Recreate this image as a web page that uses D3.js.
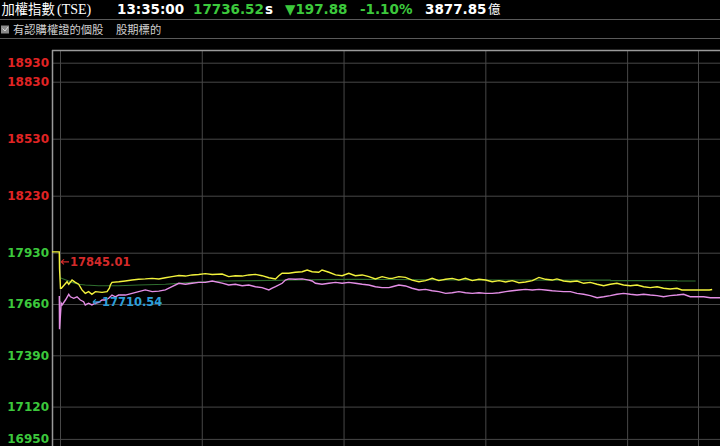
<!DOCTYPE html>
<html>
<head>
<meta charset="utf-8">
<script src="https://cdn.jsdelivr.net/npm/d3@7"></script>
<style>
  body { margin: 0; background: #000; overflow: hidden; }
  svg { display: block; }
</style>
</head>
<body>
<svg id="chart" width="720" height="446"></svg>
<script>
// header quote
const quoteName = "加權指數";
const quoteCode = "(TSE)";
const quoteTime = "13:35:00";
const lastPrice = "17736.52";
const changePts = "197.88";
const changePct = "-1.10%";
const turnover = "3877.85";
const filterTabs = ["有認購權證的個股", "股期標的"];

const prevClose = 17934.40;
const yTicks = [18930, 18830, 18530, 18230, 17930, 17660, 17390, 17120, 16950];
const xTicks = [0, 60, 120, 180, 240, 270]; // minutes after 09:00

// index (yellow): [minutes after 09:00, value]
const indexSeries = [
  [-3.4, 17934.40], [-0.3, 17934.40], [-0.2, 17845.01], [0.2, 17743], [0.6, 17743], [3.0, 17777], [3.7, 17764],
  [5.1, 17786], [6.5, 17774], [7.9, 17764], [9.3, 17734], [10.7, 17716], [12.1, 17725],
  [13.5, 17710.54], [15.0, 17725], [17.8, 17721], [19.9, 17725], [20.9, 17743], [21.3, 17760],
  [22.0, 17774], [24.9, 17777], [27.6, 17781], [30.5, 17786], [33.3, 17790], [36.1, 17792],
  [39.0, 17795], [41.8, 17792], [44.6, 17798], [47.4, 17804], [50.3, 17810], [53.1, 17807],
  [55.9, 17813], [58.7, 17815], [61.5, 17820], [64.4, 17815], [68.6, 17818], [71.4, 17804],
  [74.2, 17809], [77.1, 17807], [79.9, 17813], [82.7, 17816], [85.5, 17809], [88.4, 17798],
  [91.2, 17792], [92.6, 17809], [94.0, 17822], [96.8, 17822], [99.6, 17827], [102.5, 17830],
  [104.6, 17839], [106.7, 17830], [109.5, 17827], [110.9, 17839], [113.8, 17827], [116.6, 17813],
  [119.4, 17809], [122.2, 17822], [125.0, 17809], [127.9, 17813], [130.7, 17804], [133.5, 17792],
  [136.3, 17804], [139.2, 17795], [140.6, 17795], [143.4, 17804], [146.2, 17800], [149.0, 17786],
  [151.9, 17777], [154.7, 17783], [157.5, 17795], [160.3, 17783], [163.2, 17790], [166.0, 17795],
  [168.8, 17786], [171.6, 17795], [174.5, 17783], [177.3, 17790], [180.1, 17786], [182.9, 17777],
  [185.8, 17783], [188.6, 17776], [191.4, 17783], [194.2, 17772], [197.0, 17776], [199.9, 17783],
  [202.7, 17800], [205.5, 17790], [208.3, 17786], [210.3, 17792], [213.1, 17781], [216.0, 17777],
  [218.8, 17781], [221.6, 17769], [224.4, 17774], [227.3, 17764], [230.1, 17756], [232.9, 17764],
  [235.7, 17769], [238.5, 17760], [241.4, 17756], [244.2, 17760], [247.0, 17751], [249.8, 17746],
  [252.7, 17751], [255.4, 17743], [258.2, 17739], [261.1, 17743], [263.2, 17734], [274.8, 17734],
  [276.0, 17736.52]
];

// futures (violet)
const futuresSeries = [
  [-0.3, 17702], [-0.2, 17527], [0.5, 17664], [0.9, 17655], [2.3, 17681], [3.7, 17711], [4.4, 17698],
  [5.8, 17690], [7.2, 17698], [8.6, 17681], [10.0, 17672], [10.7, 17655], [12.1, 17664],
  [13.5, 17655], [15.0, 17664], [16.4, 17669], [17.8, 17681], [19.2, 17681], [20.6, 17690],
  [22.0, 17707], [23.4, 17698], [24.8, 17707], [27.7, 17707], [30.5, 17716], [33.3, 17725],
  [36.1, 17734], [39.0, 17725], [41.8, 17728], [44.6, 17734], [47.4, 17751], [50.3, 17769],
  [53.1, 17764], [55.9, 17769], [58.7, 17774], [61.5, 17774], [64.4, 17781], [68.6, 17770],
  [71.4, 17760], [74.2, 17764], [77.1, 17756], [79.9, 17760], [82.7, 17751], [85.5, 17746],
  [88.4, 17734], [89.8, 17743], [91.2, 17751], [94.0, 17769], [95.4, 17786], [96.8, 17792],
  [99.6, 17790], [102.5, 17792], [105.3, 17786], [106.7, 17781], [108.1, 17769], [110.9, 17764],
  [113.8, 17769], [116.6, 17774], [119.4, 17769], [122.2, 17774], [125.0, 17769], [127.9, 17764],
  [130.7, 17760], [133.5, 17751], [136.3, 17746], [139.2, 17746], [140.6, 17751], [143.4, 17760],
  [146.2, 17755], [149.0, 17743], [151.9, 17734], [154.7, 17737], [157.5, 17730], [160.3, 17725],
  [163.2, 17716], [166.0, 17719], [168.8, 17725], [171.6, 17719], [174.5, 17716], [177.3, 17719],
  [180.1, 17716], [182.9, 17716], [185.8, 17719], [188.6, 17725], [191.4, 17730], [194.2, 17734],
  [197.0, 17737], [199.9, 17734], [202.7, 17737], [205.5, 17734], [208.3, 17730], [210.3, 17728],
  [213.1, 17725], [216.0, 17725], [218.8, 17716], [221.6, 17711], [224.4, 17704], [227.3, 17693],
  [230.1, 17698], [232.9, 17704], [235.7, 17711], [238.5, 17716], [241.4, 17711], [244.2, 17707],
  [247.0, 17711], [249.8, 17707], [252.7, 17704], [255.4, 17698], [258.2, 17704], [261.1, 17707],
  [263.9, 17711], [266.7, 17698], [269.5, 17698], [272.4, 17698], [275.2, 17693], [278.0, 17693],
  [281.0, 17693]
];

// average (dark green)
const averageSeries = [
  [0, 17798], [3.7, 17781], [5.1, 17774], [7.9, 17764], [10.7, 17760], [16.4, 17756], [24.9, 17756],
  [33.3, 17760], [44.6, 17764], [55.9, 17774], [68.6, 17781], [94.0, 17785], [110.9, 17788],
  [125.0, 17790], [140.6, 17789], [165.0, 17787], [207.5, 17786], [232.9, 17786], [233.0, 17783],
  [261.0, 17783], [261.1, 17781], [269.0, 17781]
];

const dayHigh = {t: 0, v: 17845.01};
const dayLow = {t: 13.5, v: 17710.54};

const W = 720, H = 446;
const plotLeft = 52, plotTop = 50;
const colorUp = "#e02424", colorDown = "#3cc83c";
const cjk = "'Noto Sans CJK TC', 'Noto Sans CJK SC', sans-serif";
const boldFont = "'DejaVu Sans', Verdana, sans-serif";

const svg = d3.select("#chart");
svg.append("rect").attr("width", W).attr("height", H).attr("fill", "#000");

// header row
const head = svg.append("g").attr("class", "header");
head.append("text").attr("x", 1.5).attr("y", 14)
    .attr("font-family", cjk).attr("font-size", 13.3).attr("fill", "#fff").text(quoteName);
head.append("text").attr("x", 57).attr("y", 13.5)
    .attr("font-family", "'Liberation Serif', serif").attr("font-size", 14).attr("fill", "#fff").text(quoteCode);

const quoteParts = [
  {x: 117, text: quoteTime, fill: "#fff"},
  {x: 193, text: lastPrice, fill: colorDown},
  {x: 265, text: "s", fill: "#fff"},
  {x: 285, text: "▼" + changePts, fill: colorDown},
  {x: 360, text: changePct, fill: colorDown},
  {x: 425, text: turnover, fill: "#fff"}
];
head.selectAll("text.q")
    .data(quoteParts)
    .enter()
    .append("text")
    .attr("class", "q")
    .attr("x", d => d.x).attr("y", 13.5)
    .attr("font-family", boldFont).attr("font-weight", "bold").attr("font-size", 13.5)
    .attr("fill", d => d.fill)
    .text(d => d.text);
head.append("text").attr("x", 488).attr("y", 14)
    .attr("font-family", cjk).attr("font-size", 12.5).attr("fill", "#fff").text("億");

// separators
svg.selectAll("line.sep")
    .data([19.5, 38.5])
    .enter()
    .append("line")
    .attr("class", "sep")
    .attr("x1", 0).attr("x2", W)
    .attr("y1", d => d).attr("y2", d => d)
    .attr("stroke", "#5a5a5a");

// filter row
svg.append("rect").attr("x", 1).attr("y", 25.5).attr("width", 8).attr("height", 8)
    .attr("fill", "#8a8a8a");
svg.append("path").attr("d", "M2.5,28.5 L5,31 L8,27")
    .attr("fill", "none").attr("stroke", "#d8d8d8").attr("stroke-width", 1);
svg.selectAll("text.tab")
    .data(filterTabs)
    .enter()
    .append("text")
    .attr("class", "tab")
    .attr("x", (d, i) => i === 0 ? 13 : 116).attr("y", 33.5)
    .attr("font-family", cjk).attr("font-size", 11.3).attr("fill", "#d0d0d0")
    .text(d => d);

// scales
const x = d3.scaleLinear().domain([0, 270]).range([60, 698]);
const y = d3.scaleLinear().domain([16950, 18930]).range([438.9, 62.7]);

// vertical grid
const xGrid = svg.append("g")
    .attr("transform", `translate(0,${H})`)
    .call(d3.axisBottom(x).tickValues(xTicks).tickSize(-(H - plotTop)).tickFormat(""));
xGrid.select(".domain").remove();
xGrid.selectAll("line").attr("stroke", "#474747");

// horizontal grid + labels
const yAxis = svg.append("g")
    .attr("transform", `translate(${plotLeft},0)`)
    .call(d3.axisLeft(y).tickValues(yTicks).tickSize(-(W - plotLeft)).tickPadding(3)
        .tickFormat(d3.format("d")));
yAxis.select(".domain").remove();
yAxis.selectAll("line").attr("stroke", "#474747");
yAxis.selectAll("text")
    .attr("font-family", boldFont).attr("font-weight", "bold").attr("font-size", 12)
    .attr("fill", d => d > prevClose ? colorUp : colorDown);

// frame
svg.append("line").attr("x1", plotLeft).attr("x2", W).attr("y1", plotTop + 0.5).attr("y2", plotTop + 0.5)
    .attr("stroke", "#9a9a9a").attr("stroke-width", 1.5);
svg.append("line").attr("x1", plotLeft + 0.5).attr("x2", plotLeft + 0.5).attr("y1", plotTop).attr("y2", H)
    .attr("stroke", "#9a9a9a").attr("stroke-width", 1.5);

// series
const line = d3.line().x(d => x(d[0])).y(d => y(d[1]));
svg.append("path").datum(averageSeries).attr("d", line)
    .attr("fill", "none").attr("stroke", "#2f6e2f").attr("stroke-width", 1.2);
svg.append("path").datum(futuresSeries).attr("d", line)
    .attr("fill", "none").attr("stroke", "#e48ee6").attr("stroke-width", 1.4);
svg.append("path").datum(indexSeries).attr("d", line)
    .attr("fill", "none").attr("stroke", "#f2f23c").attr("stroke-width", 1.4);

// high / low markers
function marker(pt, dy, color, tipOffset) {
    const tx = x(pt.t) + tipOffset, ty = y(pt.v) + dy;
    const g = svg.append("g");
    g.append("path")
        .attr("d", `M${tx},${ty} L${tx + 8},${ty} M${tx},${ty} L${tx + 3},${ty - 2.5} M${tx},${ty} L${tx + 3},${ty + 2.5}`)
        .attr("stroke", color).attr("stroke-width", 1.2).attr("fill", "none");
    g.append("text").attr("x", tx + 9).attr("y", ty + 4.3)
        .attr("font-family", boldFont).attr("font-weight", "bold").attr("font-size", 11.5)
        .attr("fill", color)
        .text(pt.v.toFixed(2));
}
marker(dayHigh, -7, "#d42a2a", 1);
marker(dayLow, 7.5, "#2d9ed8", 1);
</script>
</body>
</html>
